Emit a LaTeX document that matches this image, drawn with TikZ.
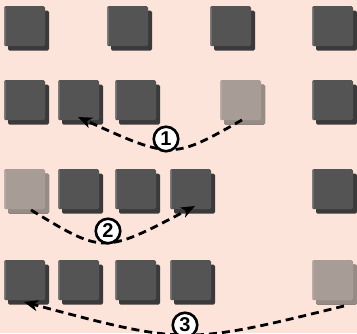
\documentclass[tikz,border=0pt]{standalone}
\usepackage{fontspec}
\setmainfont{Liberation Sans}
\usetikzlibrary{shadows,arrows.meta}
\definecolor{bg}{RGB}{252,228,218}
\definecolor{face}{RGB}{84,84,84}
\definecolor{edge}{RGB}{58,58,58}
\definecolor{hilite}{RGB}{125,125,125}
\definecolor{lface}{RGB}{168,157,150}
\definecolor{ledge}{RGB}{150,140,133}
\definecolor{lhilite}{RGB}{185,175,168}
\tikzset{
  blk/.style={minimum width=41pt,minimum height=40pt,inner sep=0pt,draw=none,
    fill=face,rounded corners=1.5pt,
    drop shadow={shadow xshift=4pt,shadow yshift=-4.5pt,opacity=1,fill=edge},
    path picture={\fill[hilite] (path picture bounding box.north west) rectangle ([xshift=1.5pt]path picture bounding box.south west);}},
  lblk/.style={blk,fill=lface,
    drop shadow={shadow xshift=4pt,shadow yshift=-4.5pt,opacity=1,fill=ledge},
    path picture={\fill[lhilite] (path picture bounding box.north west) rectangle ([xshift=1.5pt]path picture bounding box.south west);}},
  mv/.style={line width=2.8pt,dash pattern=on 8pt off 5pt,-{Stealth[length=14pt,width=11pt,inset=4pt]}},
  num/.style={circle,draw=black,line width=2.6pt,fill=white,minimum size=24.5pt,inner sep=0pt,
    font=\fontsize{20}{20}\selectfont\bfseries}
}
\begin{document}
\begin{tikzpicture}[x=1pt,y=-1pt]
\fill[bg] (0,0) rectangle (357,333);
\useasboundingbox (0,0) rectangle (357,333);
% row 1
\node[blk] (a1) at (24.5,26) {};
\node[blk] (a2) at (127.5,26) {};
\node[blk] (a3) at (230.5,26) {};
\node[blk] (a4) at (332.5,26) {};
% row 2
\node[blk] (b1) at (24.5,100) {};
\node[blk] (b2) at (78.5,100) {};
\node[blk] (b3) at (135.5,100) {};
\node[lblk] (b4) at (240.5,100) {};
\node[blk] (b5) at (332.5,100) {};
% row 3
\node[lblk] (c1) at (24.5,189) {};
\node[blk] (c2) at (78.5,189) {};
\node[blk] (c3) at (135.5,189) {};
\node[blk] (c4) at (190.5,189) {};
\node[blk] (c5) at (332.5,189) {};
% row 4
\node[blk] (d1) at (24.5,280) {};
\node[blk] (d2) at (78.5,280) {};
\node[blk] (d3) at (135.5,280) {};
\node[blk] (d4) at (190.5,280) {};
\node[lblk] (d5) at (332.5,280) {};
% arrow ends
\coordinate (s1) at (242,120);
\coordinate (e1) at (78,117);
\coordinate (s2) at (31,210);
\coordinate (e2) at (195,206);
\coordinate (s3) at (344,306);
\coordinate (e3) at (24,302);
\draw[mv] (s1) .. controls (172,159.5) .. (e1);
\draw[mv] (s2) .. controls (103.5,254) .. (e2);
\draw[mv] (s3) .. controls (185.5,345) .. (e3);
\node[num] (n1) at (166,139) {1};
\node[num] (n2) at (108,231) {2};
\node[num] (n3) at (185,325) {3};
\end{tikzpicture}
\end{document}
